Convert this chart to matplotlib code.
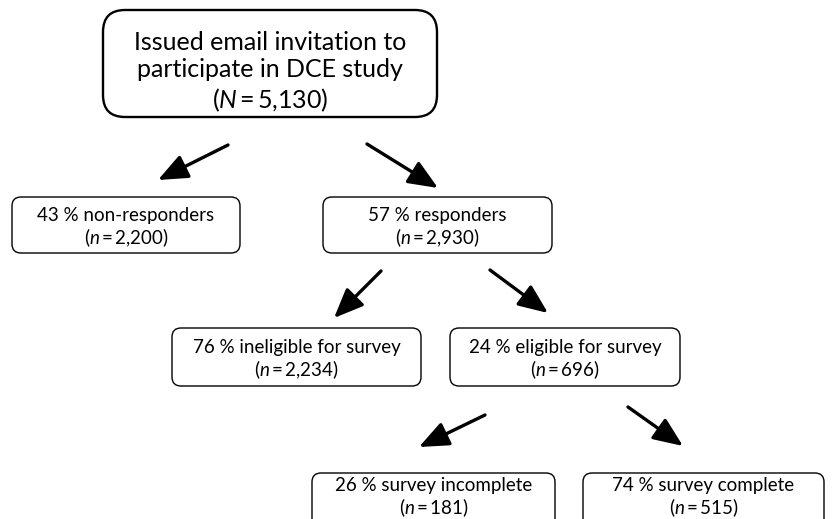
import matplotlib.pyplot as plt
from matplotlib.patches import FancyBboxPatch

plt.rcParams['font.family'] = ['Lato', 'DejaVu Sans']
plt.rcParams['mathtext.fontset'] = 'custom'
plt.rcParams['mathtext.rm'] = 'Lato'
plt.rcParams['mathtext.it'] = 'Lato:italic'

# flowchart content
labels = ['Issued email invitation to\nparticipate in DCE study',
          '43 % non-responders', '57 % responders',
          '76 % ineligible for survey', '24 % eligible for survey',
          '26 % survey incomplete', '74 % survey complete']
counts = ['5,130', '2,200', '2,930', '2,234', '696', '181', '515']
count_sym = ['N', 'n', 'n', 'n', 'n', 'n', 'n']

# layout (pixel units): x0, y0, x1, y1, corner radius, font size
boxes = [(103, 10, 437, 117, 22, 18),
         (12, 197, 240, 253, 9, 13.5),
         (323, 197, 552, 253, 9, 13.5),
         (172, 328, 421, 386, 9, 13.5),
         (450, 328, 680, 386, 9, 13.5),
         (312, 473, 555, 530, 9, 13.5),
         (583, 473, 824, 530, 9, 13.5)]

arrows = [((228, 145), (158, 180)), ((367, 144), (438, 188)),
          ((381, 271), (334, 318)), ((490, 270), (548, 313)),
          ((485, 415), (419, 447)), ((628, 407), (683, 446))]

fig = plt.figure(figsize=(8.4, 5.19), dpi=100)
ax = fig.add_axes([0, 0, 1, 1])
ax.set_xlim(0, 840)
ax.set_ylim(519, 0)
ax.axis('off')

for i, (x0, y0, x1, y1, r, fs) in enumerate(boxes):
    lw = 1.7 if i == 0 else 1.0
    ax.add_patch(FancyBboxPatch((x0, y0), x1 - x0, y1 - y0,
                                boxstyle=f'round,pad=0,rounding_size={r}',
                                fc='white', ec='black', lw=lw))
    txt = (labels[i] + '\n(' + '$\\mathit{' + count_sym[i] + '}$'
           + '\u2009=\u2009' + counts[i] + ')')
    if i == 0:
        cy = (y0 + y1) / 2 + 9
    elif i < 5:
        cy = (y0 + y1) / 2 + 3
    else:
        cy = y0 + 25
    ax.text((x0 + x1) / 2, cy, txt, ha='center', va='center',
            fontsize=fs, linespacing=1.22 if i == 0 else 1.1)

for (sx, sy), (ex, ey) in arrows:
    ax.annotate('', xy=(ex, ey), xytext=(sx, sy),
                arrowprops=dict(arrowstyle='-|>,head_length=1.0,head_width=0.42',
                                lw=2.4, color='black', mutation_scale=18,
                                shrinkA=0, shrinkB=0))

fig.savefig('out.png', dpi=100)
